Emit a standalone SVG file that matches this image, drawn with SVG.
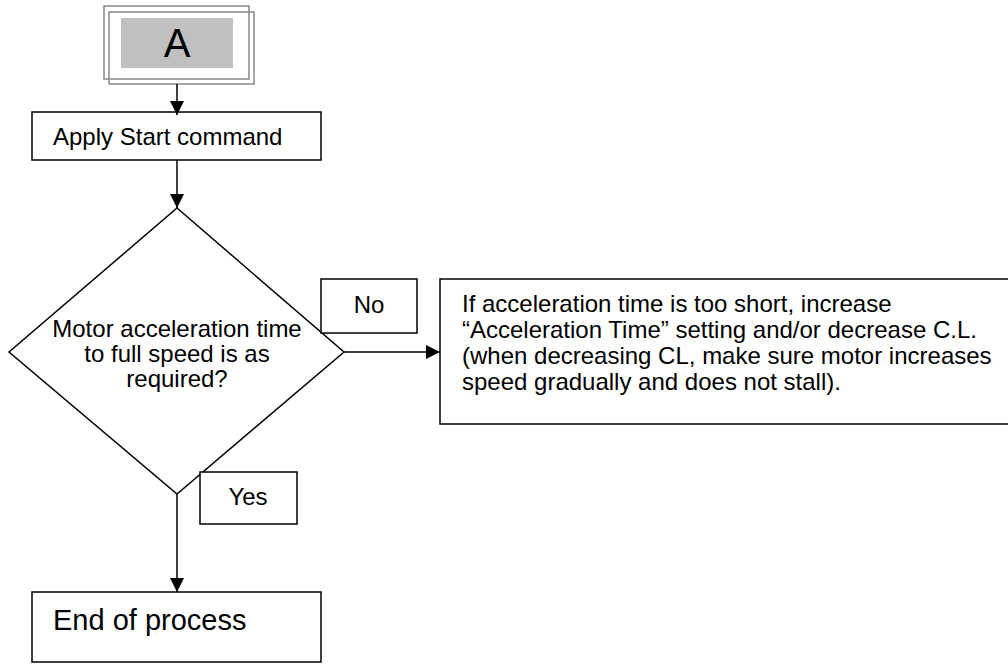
<svg xmlns="http://www.w3.org/2000/svg" width="1008" height="664" viewBox="0 0 1008 664">
<defs>
<marker id="ah" markerWidth="14" markerHeight="14" refX="14" refY="7" orient="auto" markerUnits="userSpaceOnUse"><path d="M0,0 L14,7 L0,14 z" fill="#000"/></marker>
<style>
.box{fill:#fff;stroke:#000;stroke-width:1.5}
.t{font-family:"Liberation Sans",Arial,sans-serif;fill:#000}
.c{stroke:#000;stroke-width:1.5;fill:none}
</style>
</defs>
<rect width="1008" height="664" fill="#fff"/>
<g id="nodeA">
<rect x="104" y="6" width="145" height="73" fill="#fff" stroke="#888" stroke-width="1.5"/>
<rect x="109" y="12" width="145" height="72" fill="none" stroke="#888" stroke-width="1.5"/>
<rect x="121" y="18" width="112" height="50" fill="#c0c0c0"/>
<text class="t" x="177" y="57" font-size="40" text-anchor="middle">A</text>
</g>
<g id="apply">
<rect class="box" x="32" y="112" width="289" height="48"/>
<text class="t" x="53" y="145" font-size="24">Apply Start command</text>
</g>
<g id="decision">
<polygon class="box" points="177,208 344,352 177,494 9,352"/>
<text class="t" font-size="24" text-anchor="middle"><tspan x="177" y="337">Motor acceleration time</tspan><tspan x="177" y="362">to full speed is as</tspan><tspan x="177" y="387">required?</tspan></text>
</g>
<g id="no">
<rect class="box" x="321" y="279" width="96" height="54"/>
<text class="t" x="369" y="313" font-size="24" text-anchor="middle">No</text>
</g>
<g id="action">
<rect class="box" x="440" y="279" width="576" height="145"/>
<text class="t" font-size="24"><tspan x="462" y="312">If acceleration time is too short, increase</tspan><tspan x="462" y="338">“Acceleration Time” setting and/or decrease C.L.</tspan><tspan x="462" y="364">(when decreasing CL, make sure motor increases</tspan><tspan x="462" y="390">speed gradually and does not stall).</tspan></text>
</g>
<g id="yes">
<rect class="box" x="200" y="472" width="97" height="52"/>
<text class="t" x="248" y="505" font-size="24" text-anchor="middle">Yes</text>
</g>
<g id="end">
<rect class="box" x="32" y="592" width="289" height="70"/>
<text class="t" x="53" y="630" font-size="29">End of process</text>
</g>
<g id="connectors">
<line class="c" x1="177" y1="84" x2="177" y2="115" marker-end="url(#ah)"/>
<line class="c" x1="177" y1="160" x2="177" y2="208" marker-end="url(#ah)"/>
<line class="c" x1="344" y1="352" x2="440" y2="352" marker-end="url(#ah)"/>
<line class="c" x1="177" y1="494" x2="177" y2="592" marker-end="url(#ah)"/>
</g>
</svg>
